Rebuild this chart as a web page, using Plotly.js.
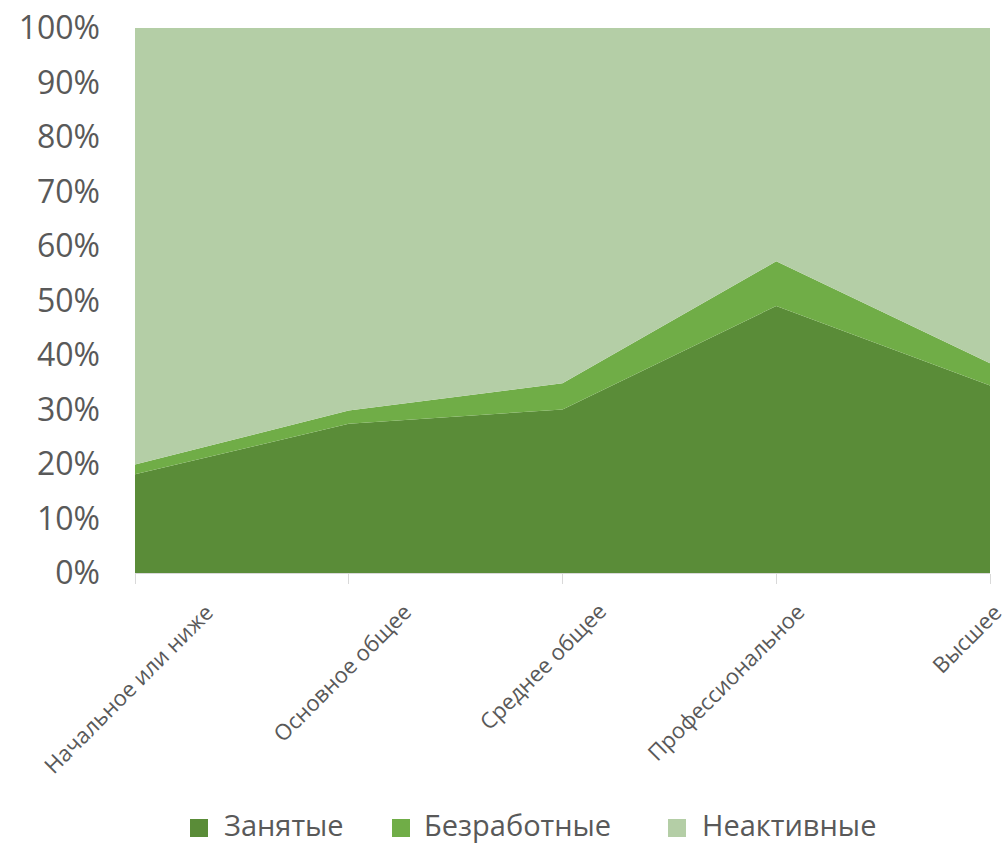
<!DOCTYPE html>
<html>
<head>
<meta charset="utf-8">
<script src="https://cdn.plot.ly/plotly-3.0.1.min.js"></script>
<style>html,body{margin:0;padding:0;background:#fff;}#chart{width:1006px;height:845px;}</style>
</head>
<body>
<div id="chart"></div>
<script>
const categories = ["Начальное или ниже", "Основное общее", "Среднее общее", "Профессиональное", "Высшее"];
const employed = [18.1, 27.4, 30.0, 49.0, 34.4];
const unemployed = [1.8, 2.4, 4.8, 8.2, 4.1];
const inactive = [80.1, 70.2, 65.2, 42.8, 61.5];
const seriesNames = ["Занятые", "Безработные", "Неактивные"];
const yTickVals = [0, 10, 20, 30, 40, 50, 60, 70, 80, 90, 100];
const yTickText = ["0%", "10%", "20%", "30%", "40%", "50%", "60%", "70%", "80%", "90%", "100%"];

// styles
const colors = ["#5a8c38", "#70ad47", "#b4cea6"];
const textColor = "#595959";
const font = "Open Sans, Liberation Sans, DejaVu Sans, sans-serif";
const M = {l: 135, r: 16, t: 28, b: 272};
const W = 1006, H = 845;
const PW = W - M.l - M.r, PH = H - M.t - M.b;
const px2x = px => (px - M.l) / PW;
const px2y = py => (H - M.b - py) / PH;
const labelShift = [87, 71, 52, 36, 20];   // horizontal offset of label end from its tick
const legendIcon = [190, 392, 668];
const legendText = [222, 422, 700];

const data = [employed, unemployed, inactive].map((vals, i) => ({
  type: "scatter",
  mode: "none",
  x: categories,
  y: vals,
  name: seriesNames[i],
  stackgroup: "one",
  fillcolor: colors[i],
  line: {width: 0},
  showlegend: false,
  hoverinfo: "skip"
}));

const annotations = categories.map((c, i) => ({
  x: c, xref: "x",
  y: 0, yref: "paper",
  text: c,
  textangle: -45,
  xanchor: "right", yanchor: "top",
  xshift: labelShift[i], yshift: -21,
  showarrow: false,
  font: {family: font, size: 22, color: textColor}
}));
const shapes = [];
seriesNames.forEach((n, i) => {
  shapes.push({
    type: "rect", xref: "paper", yref: "paper",
    x0: px2x(legendIcon[i]), x1: px2x(legendIcon[i] + 18),
    y0: px2y(837), y1: px2y(819),
    fillcolor: colors[i], line: {width: 0}
  });
  annotations.push({
    x: px2x(legendText[i]), xref: "paper",
    y: px2y(824), yref: "paper",
    text: n, xanchor: "left", yanchor: "middle",
    showarrow: false,
    font: {family: font, size: 29, color: textColor}
  });
});

const layout = {
  width: W,
  height: H,
  margin: M,
  paper_bgcolor: "#fff",
  plot_bgcolor: "#fff",
  showlegend: false,
  annotations: annotations,
  shapes: shapes,
  xaxis: {
    type: "category",
    range: [0, categories.length - 1],
    automargin: false,
    showgrid: false,
    zeroline: false,
    showline: true,
    linecolor: "#d9d9d9",
    linewidth: 1,
    ticks: "outside",
    ticklen: 10,
    tickcolor: "#d9d9d9",
    showticklabels: false,
    fixedrange: true
  },
  yaxis: {
    range: [0, 100],
    automargin: false,
    tickvals: yTickVals,
    ticktext: yTickText,
    showgrid: false,
    zeroline: false,
    showline: false,
    ticks: "",
    ticklabelstandoff: 34,
    tickfont: {family: font, size: 32, color: textColor},
    fixedrange: true
  }
};

Plotly.newPlot("chart", data, layout, {displayModeBar: false, staticPlot: true});
</script>
</body>
</html>
